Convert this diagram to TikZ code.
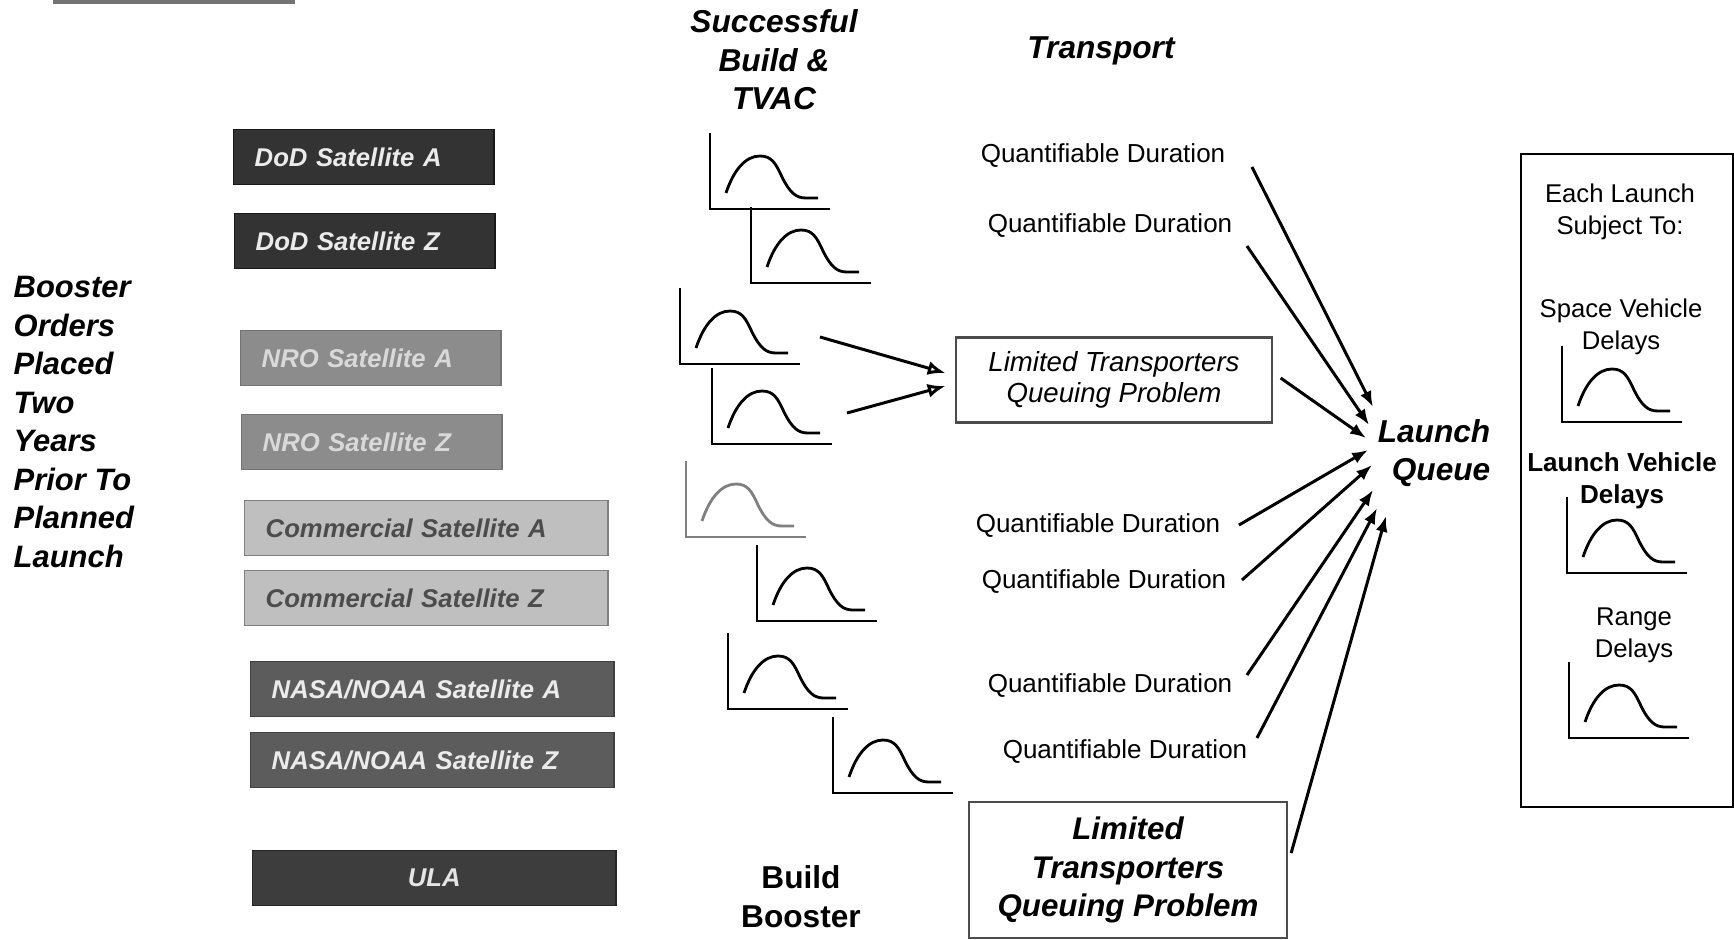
\documentclass[tikz,border=0pt]{standalone}
\usepackage{fontspec}
\setmainfont{Liberation Sans}
\usetikzlibrary{arrows.meta}

\begin{document}
\begin{tikzpicture}[x=0.01cm,y=-0.01cm]

	\tikzset{
	  satbox/.style={anchor=north west, minimum height=0.55cm, inner xsep=0.21cm, inner ysep=0pt, align=left,
	    font=\fontsize{7.3}{8}\selectfont\bfseries\itshape},
	  smallsat/.style={satbox, text width=2.18cm},
	  widesat/.style={satbox, text width=3.21cm},
	  dodbox/.style={smallsat, fill=black!80, draw=black!90, text=white!92!black},
	  nrobox/.style={smallsat, fill=black!45, draw=black!55, text=black!15},
	  combox/.style={widesat, fill=black!25, draw=black!50, text=black!70},
	  nasabox/.style={widesat, fill=black!64, draw=black!75, text=white!92!black},
	  ulabox/.style={widesat, align=center, fill=black!76, draw=black!85, text=white!90!black},
	  headlabel/.style={align=center, font=\fontsize{9}{10.9}\selectfont\bfseries\itshape},
	  qlabel/.style={inner sep=0pt, font=\fontsize{7.4}{8.5}\selectfont},
	  limbox/.style={draw=black!70, line width=0.6pt, align=center},
	  delaylabel/.style={align=center, font=\fontsize{7.3}{9.1}\selectfont},
	  axisline/.style={line width=0.8pt},
	  curveline/.style={line width=0.8pt},
	  arr/.style={line width=0.85pt, -{Latex[length=4.5pt,width=3.4pt]}},
	  openarr/.style={line width=0.85pt, -{Latex[open,length=5pt,width=4pt]}},
	  distplot/.pic={
	    \draw[axisline] (0,-76) -- (0,0) -- (120,0);
	    \draw[curveline] (16,-16) .. controls (24,-40) and (36,-53) .. (50,-53)
	      .. controls (62,-53) and (66,-45) .. (72,-32)
	      .. controls (80,-16) and (86,-11) .. (96,-11) -- (108,-11);
	  },
	}
	\useasboundingbox (0,0) rectangle (1734,939);

	\fill[black!55] (53,0) rectangle (295,4);

	\node[anchor=west, align=left, inner sep=0pt, font=\fontsize{8.8}{10.95}\selectfont\bfseries\itshape] (orders) at (13,422)
	  {Booster\\Orders\\Placed\\Two\\Years\\Prior To\\Planned\\Launch};

	\node[dodbox] (doda) at (233,129) {DoD Satellite A};
	\node[dodbox] (dodz) at (234,213) {DoD Satellite Z};
	\node[nrobox] (nroa) at (240,330) {NRO Satellite A};
	\node[nrobox] (nroz) at (241,414) {NRO Satellite Z};
	\node[combox] (coma) at (244,500) {Commercial Satellite A};
	\node[combox] (comz) at (244,570) {Commercial Satellite Z};
	\node[nasabox] (nasaa) at (250,661) {NASA/NOAA Satellite A};
	\node[nasabox] (nasaz) at (250,732) {NASA/NOAA Satellite Z};
	\node[ulabox] (ula) at (252,850) {ULA};

	\node[headlabel] (build) at (774,60) {Successful\\Build \&\\TVAC};
	\node[headlabel] (transport) at (1101,51) {Transport};
	\node[headlabel, font=\fontsize{9}{11.1}\selectfont\bfseries] (booster) at (801,897) {Build\\Booster};

	\pic at (710,209) {distplot};
	\pic at (751,283) {distplot};
	\pic at (680,364) {distplot};
	\pic at (712,444) {distplot};
	\pic[black!50] at (686,537) {distplot};
	\pic at (757,621) {distplot};
	\pic at (728,709) {distplot};
	\pic at (833,793) {distplot};

	\node[qlabel] (q1) at (1103,156) {Quantifiable Duration};
	\node[qlabel] (q2) at (1110,226) {Quantifiable Duration};
	\node[qlabel] (q3) at (1098,526) {Quantifiable Duration};
	\node[qlabel] (q4) at (1104,582) {Quantifiable Duration};
	\node[qlabel] (q5) at (1110,686) {Quantifiable Duration};
	\node[qlabel] (q6) at (1125,752) {Quantifiable Duration};

	\node[limbox, minimum width=3.15cm, minimum height=0.85cm, font=\fontsize{7.85}{8.8}\selectfont\itshape] (lim1)
	  at (1114,380) {Limited Transporters\\Queuing Problem};
	\node[limbox, minimum width=3.18cm, minimum height=1.36cm, font=\fontsize{8.9}{10.95}\selectfont\bfseries\itshape] (lim2)
	  at (1128,870) {Limited\\Transporters\\Queuing Problem};

	\node[headlabel, anchor=east, align=right, inner sep=0pt] (queue) at (1491,453) {Launch\\Queue};

	\node[draw, line width=0.7pt, minimum width=2.12cm, minimum height=6.53cm] (delaybox) at (1627,480.5) {};
	\node[delaylabel] (each) at (1620,212) {Each Launch\\Subject To:};
	\node[delaylabel] (svd) at (1621,327) {Space Vehicle\\Delays};
	\node[delaylabel, font=\fontsize{7.4}{9.1}\selectfont\bfseries] (lvd) at (1622,481) {Launch Vehicle\\Delays};
	\node[delaylabel] (rd) at (1634,635) {Range\\Delays};
	\pic at (1562,422) {distplot};
	\pic at (1567,573) {distplot};
	\pic at (1569,738) {distplot};

	\coordinate (s3) at (820,337);
	\coordinate (s4) at (847,413);
	\draw[openarr] (s3) -- ([shift={(-10,-7)}]lim1.west);
	\draw[openarr] (s4) -- ([shift={(-10,6)}]lim1.west);

	\coordinate (t1) at (1373,407);
	\coordinate (t2) at (1369,425);
	\coordinate (t3) at (1366,438);
	\coordinate (t4) at (1368,450);
	\coordinate (t5) at (1372,465);
	\coordinate (t6) at (1373,490);
	\coordinate (t7) at (1377,508);
	\coordinate (t8) at (1386,516);
	\draw[arr] ([shift={(26,11)}]q1.east) -- (t1);
	\draw[arr] ([shift={(14,20)}]q2.east) -- (t2);
	\draw[arr] ([shift={(8,-2)}]lim1.east) -- (t3);
	\draw[arr] ([shift={(18,-1)}]q3.east) -- (t4);
	\draw[arr] ([shift={(15,-2)}]q4.east) -- (t5);
	\draw[arr] ([shift={(14,-11)}]q5.east) -- (t6);
	\draw[arr] ([shift={(9,-14)}]q6.east) -- (t7);
	\draw[arr] ([shift={(3,-17)}]lim2.east) -- (t8);

\end{tikzpicture}
\end{document}
